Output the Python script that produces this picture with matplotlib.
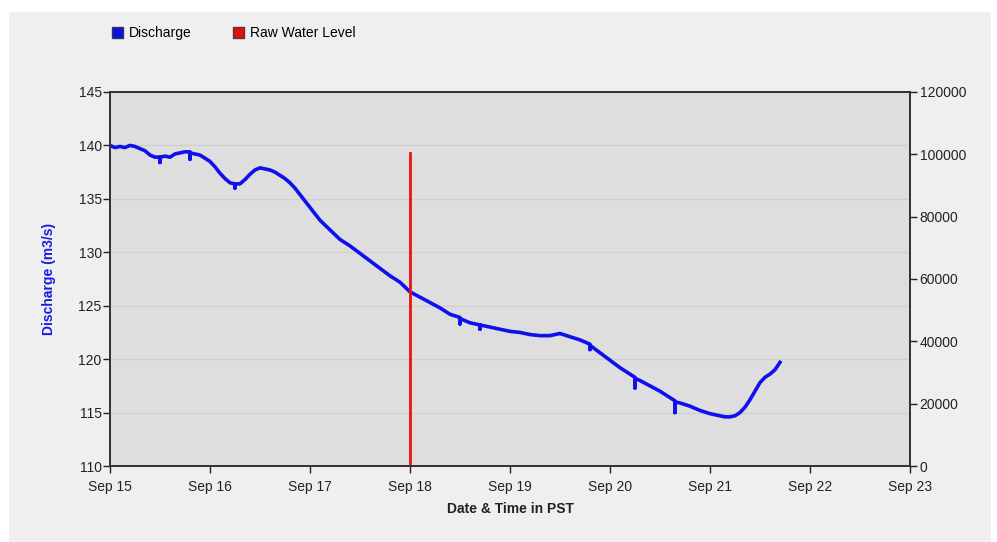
import matplotlib.pyplot as plt
import numpy as np
from matplotlib.patches import Patch, Rectangle

# discharge readings (day of September, m3/s)
day = [15.0, 15.05, 15.1, 15.15, 15.2, 15.25, 15.3, 15.35, 15.4, 15.45, 15.5, 15.5, 15.5,
       15.55, 15.6, 15.65, 15.7, 15.75, 15.8, 15.8, 15.8, 15.85, 15.9, 15.95, 16.0,
       16.05, 16.1, 16.15, 16.2, 16.25, 16.25, 16.25, 16.3, 16.35, 16.4, 16.45, 16.5,
       16.55, 16.6, 16.65, 16.7, 16.75, 16.8, 16.85, 16.9, 17.0, 17.1, 17.2, 17.3,
       17.4, 17.5, 17.6, 17.7, 17.8, 17.9, 18.0, 18.1, 18.2, 18.3, 18.4, 18.5,
       18.5, 18.5, 18.6, 18.7, 18.7, 18.7, 18.8, 18.9, 19.0, 19.1, 19.2, 19.3,
       19.4, 19.5, 19.6, 19.7, 19.8, 19.8, 19.8, 19.9, 20.0, 20.1, 20.2, 20.25,
       20.25, 20.25, 20.3, 20.4, 20.5, 20.6, 20.65, 20.65, 20.65, 20.7, 20.8, 20.9,
       21.0, 21.1, 21.15, 21.2, 21.25, 21.3, 21.35, 21.4, 21.45, 21.5, 21.55, 21.6,
       21.65, 21.7]
discharge = [140.0, 139.8, 139.9, 139.8, 140.0, 139.9, 139.7, 139.5, 139.1, 138.9, 138.9, 138.4, 138.9,
             139.0, 138.9, 139.2, 139.3, 139.4, 139.4, 138.7, 139.3, 139.2, 139.1, 138.8, 138.5,
             138.0, 137.4, 136.9, 136.5, 136.4, 136.0, 136.4, 136.4, 136.8, 137.3, 137.7, 137.9,
             137.8, 137.7, 137.5, 137.2, 136.9, 136.5, 136.0, 135.4, 134.2, 133.0, 132.1, 131.2,
             130.6, 129.9, 129.2, 128.5, 127.8, 127.2, 126.3, 125.8, 125.3, 124.8, 124.2, 123.9,
             123.3, 123.8, 123.4, 123.2, 122.8, 123.2, 123.0, 122.8, 122.6, 122.5, 122.3, 122.2,
             122.2, 122.4, 122.1, 121.8, 121.4, 120.9, 121.3, 120.6, 119.9, 119.2, 118.6, 118.3,
             117.3, 118.2, 118.0, 117.5, 117.0, 116.4, 116.1, 115.0, 116.0, 115.9, 115.6, 115.2,
             114.9, 114.7, 114.6, 114.6, 114.7, 115.0, 115.5, 116.2, 117.0, 117.8, 118.3, 118.6,
             119.0, 119.7]

# raw water level marker
level_day = [18.0, 18.0]
level_value = [0, 100500]

xticks = [15, 16, 17, 18, 19, 20, 21, 22, 23]
xlabels = ['Sep 15', 'Sep 16', 'Sep 17', 'Sep 18', 'Sep 19', 'Sep 20', 'Sep 21', 'Sep 22', 'Sep 23']
yticks_left = [110, 115, 120, 125, 130, 135, 140, 145]
yticks_right = [0, 20000, 40000, 60000, 80000, 100000, 120000]

plt.rcParams['font.family'] = ['Liberation Sans', 'DejaVu Sans']

fig = plt.figure(figsize=(9.97, 5.42), dpi=100)
fig.patch.set_facecolor('white')
# light grey panel behind the chart
fig.patches.append(Rectangle((0.009, 0.0), 0.985, 0.978, transform=fig.transFigure,
                             facecolor='#efefef', edgecolor='none', zorder=-10))

ax = fig.add_axes([0.1103, 0.1402, 0.8024, 0.6901])
ax.set_facecolor('#dedede')
ax.plot(day, discharge, color='#1010ee', lw=2.6, solid_joinstyle='round', zorder=3)
ax.set_xlim(15, 23)
ax.set_ylim(110, 145)
ax.set_xticks(xticks)
ax.set_xticklabels(xlabels)
ax.set_yticks(yticks_left)
ax.yaxis.grid(True, color='#d0d0d0', lw=1)
ax.set_axisbelow(True)
ax.tick_params(axis='both', direction='out', length=5, width=1, labelsize=10, colors='#222222', pad=1)
ax.tick_params(axis='x', pad=5)
for s in ax.spines.values():
    s.set_color('#333333')
    s.set_linewidth(1.3)
ax.set_ylabel('Discharge (m3/s)', color='#1a1ae6', fontsize=10, fontweight='bold', labelpad=16)
ax.set_xlabel('Date & Time in PST', color='#222222', fontsize=10, fontweight='bold', labelpad=6)

ax2 = ax.twinx()
ax2.plot(level_day, level_value, color='#ee1111', lw=2)
ax2.set_ylim(0, 120000)
ax2.set_yticks(yticks_right)
ax2.tick_params(axis='y', direction='out', length=5, width=1, labelsize=10, colors='#222222', pad=2)
for s in ax2.spines.values():
    s.set_color('#333333')
    s.set_linewidth(1.3)

handles = [Patch(facecolor='#1010dd', edgecolor='#333366', label='Discharge'),
           Patch(facecolor='#dd1111', edgecolor='#663333', label='Raw Water Level')]
fig.legend(handles=handles, loc='upper left', bbox_to_anchor=(0.1, 0.975), ncol=2, frameon=False,
           fontsize=10, handlelength=0.8, handleheight=0.8, handletextpad=0.4, columnspacing=3.0)

fig.savefig('out.png', dpi=100)
